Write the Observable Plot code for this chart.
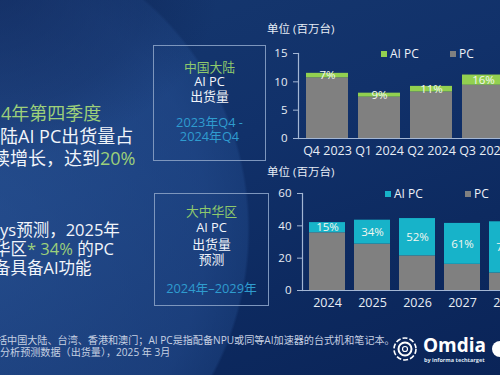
<!DOCTYPE html>
<html><head><meta charset="utf-8">
<script src="https://cdn.jsdelivr.net/npm/d3@7"></script>
<script src="https://cdn.jsdelivr.net/npm/@observablehq/plot@0.6"></script>
<style>
html,body{margin:0;padding:0;background:#0d2a5f;}
#slide{position:relative;width:500px;height:375px;overflow:hidden;font-family:"Open Sans","Noto Sans CJK SC",sans-serif;color:#f2f5fa;
background:
 radial-gradient(ellipse 230px 180px at -10px -20px, rgba(10,28,75,0.55) 0%, rgba(10,28,75,0.25) 70%, rgba(10,28,75,0) 100%),
 radial-gradient(ellipse 290px 300px at -40px 230px, rgba(52,98,168,0.55) 0%, rgba(44,88,158,0.45) 85%, rgba(40,84,152,0.35) 99%, rgba(30,70,140,0.0) 100%),
 linear-gradient(160deg,#16386f 0%,#11316a 40%,#0d2a60 70%,#0a2458 100%);}
.abs{position:absolute;white-space:nowrap;}
.g{color:#9dd07a;}
.box{position:absolute;border:1.5px solid #7d96bd;box-sizing:border-box;}
.bt{position:absolute;left:0;width:100%;text-align:center;font-size:12.8px;line-height:14px;}
.lg{position:absolute;font-size:12px;line-height:14px;color:#eef2f8;white-space:nowrap;}
.sq{display:inline-block;width:6px;height:6px;margin-right:3px;vertical-align:1px;}
.ylab{position:absolute;font-size:11.5px;line-height:14px;color:#e6ecf5;white-space:nowrap;}
.chart{position:absolute;width:320px;}
.chart svg{max-width:none !important;}
</style></head>
<body>
<div id="slide">
  <!-- left text -->
  <div class="abs g" style="left:1px;top:102px;font-size:18px;line-height:22px;">4年第四季度</div>
  <div class="abs" style="left:0px;top:125px;font-size:18px;line-height:22px;">陆AI PC出货量占</div>
  <div class="abs" style="left:-8px;top:147px;font-size:18px;line-height:22px;">续增长，达到<span class="g">20%</span></div>

  <div class="abs" style="left:0px;top:220px;font-size:16.5px;line-height:19px;">ys预测，2025年</div>
  <div class="abs" style="left:-6px;top:239px;font-size:16.5px;line-height:19px;">华区<span class="g">* 34%</span> 的PC</div>
  <div class="abs" style="left:-6px;top:258px;font-size:16.5px;line-height:19px;">备具备AI功能</div>

  <!-- boxes -->
  <div class="box" style="left:153px;top:45px;width:113px;height:116px;">
    <div class="bt" style="top:14px;color:#8fc96c;">中国大陆</div>
    <div class="bt" style="top:28px;">AI PC</div>
    <div class="bt" style="top:43px;">出货量</div>
    <div class="bt" style="top:69px;color:#2f9ccf;">2023年Q4 -</div>
    <div class="bt" style="top:83px;color:#2f9ccf;">2024年Q4</div>
  </div>
  <div class="box" style="left:154px;top:193px;width:115px;height:113px;">
    <div class="bt" style="top:10px;color:#8fc96c;">大中华区</div>
    <div class="bt" style="top:26px;">AI PC</div>
    <div class="bt" style="top:43px;">出货量</div>
    <div class="bt" style="top:58px;">预测</div>
    <div class="bt" style="top:87px;color:#2f9ccf;">2024年–2029年</div>
  </div>

  <!-- axis titles -->
  <div class="ylab" style="left:267px;top:22px;">单位 (百万台)</div>
  <div class="ylab" style="left:267px;top:165px;">单位 (百万台)</div>

  <div id="c1" class="chart" style="left:250px;top:20px;"></div>
  <div id="c2" class="chart" style="left:250px;top:170px;"></div>

  <!-- legends -->
  <div class="lg" style="left:381px;top:47px;"><span class="sq" style="background:#92d050"></span>AI PC</div>
  <div class="lg" style="left:450px;top:47px;"><span class="sq" style="background:#808080"></span>PC</div>
  <div class="lg" style="left:385px;top:187px;"><span class="sq" style="background:#17b3c9"></span>AI PC</div>
  <div class="lg" style="left:465px;top:187px;"><span class="sq" style="background:#808080"></span>PC</div>

  <!-- footnote -->
  <div class="abs" style="left:-3px;top:334px;font-size:10.1px;line-height:12px;color:#c6d0e2;">括中国大陆、台湾、香港和澳门；AI PC是指配备NPU或同等AI加速器的台式机和笔记本。</div>
  <div class="abs" style="left:0px;top:346px;font-size:10.1px;line-height:12px;color:#c6d0e2;">分析预测数据（出货量），2025 年 3月</div>

  <!-- logo -->
  <svg style="position:absolute;left:390px;top:334px;" width="110" height="32">
    <circle cx="15" cy="15" r="11" fill="none" stroke="#fff" stroke-width="1.6" stroke-dasharray="5 2"/>
    <circle cx="15" cy="15" r="6.5" fill="none" stroke="#fff" stroke-width="2"/>
    <circle cx="15" cy="15" r="2.5" fill="none" stroke="#fff" stroke-width="1.2"/>
    <text x="33" y="18" fill="#fff" font-size="19" font-weight="bold" font-family="Open Sans">Omdia</text>
    <text x="34" y="28" fill="#dfe6f2" font-size="5.5" font-weight="bold" font-family="Open Sans">by informa techtarget</text>
    <circle cx="110" cy="15" r="8" fill="#fff"/>
  </svg>
</div>
<script>
// ---- Chart 1: 中国大陆 AI PC 出货量 (百万台)
const quarters = ["Q4 2023", "Q1 2024", "Q2 2024", "Q3 2024"];
const cnPC = [10.7, 7.3, 8.2, 9.4];
const cnAI = [0.8, 0.7, 1.0, 1.8];
const cnShare = ["7%", "9%", "11%", "16%"];
const cnTicks = [0, 5, 10, 15];

// ---- Chart 2: 大中华区 AI PC 出货量预测 (百万台)
const years = ["2024", "2025", "2026", "2027", "2028"];
const gcPC = [35.7, 28.7, 21.4, 16.2, 10.8];
const gcAI = [6.3, 14.8, 23.1, 25.3, 31.7];
const gcShare = ["15%", "34%", "52%", "61%", "75%"];
const gcTicks = [0, 20, 40, 60];

const axisColor = "#a3b6d4";
const textColor = "#e8edf5";

function stacked({cats, pc, ai, share, ticks, aiColor, width, height, ml, mt, mb, pi, po, xFont}) {
  const rows = cats.flatMap((c, i) => [
    {cat: c, type: "PC", v: pc[i]},
    {cat: c, type: "AI PC", v: ai[i]}
  ]);
  const labels = cats.map((c, i) => ({cat: c, y: pc[i] + ai[i] / 2, t: share[i]}));
  const svg = Plot.plot({
    width, height,
    marginLeft: ml, marginTop: mt, marginBottom: mb, marginRight: 0,
    style: {background: "transparent", color: textColor, fontFamily: "Open Sans, Noto Sans CJK SC, sans-serif", overflow: "visible", maxWidth: "none"},
    x: {domain: cats, paddingInner: pi, paddingOuter: po, label: null, axis: null},
    y: {domain: [0, ticks[ticks.length - 1]], label: null, axis: null},
    color: {domain: ["PC", "AI PC"], range: ["#808080", aiColor]},
    marks: [
      Plot.barY(rows, {x: "cat", y: "v", fill: "type"}),
      Plot.text(labels, {x: "cat", y: "y", text: "t", fill: "#f4f7f0", fontSize: 11.5}),
      Plot.ruleY([0], {stroke: axisColor, strokeWidth: 1.2}),
      Plot.frame({anchor: "left", stroke: axisColor, strokeWidth: 1.2}),
      Plot.axisY({ticks, tickSize: 5, tickPadding: 6, stroke: axisColor, fontSize: 11.5, fill: textColor, label: null}),
      Plot.axisX({tickSize: 0, tickPadding: 8, fontSize: xFont, fill: textColor, label: null})
    ]
  });
  svg.style.maxWidth = "none";
  return svg;
}

document.getElementById("c1").append(stacked({
  cats: quarters, pc: cnPC, ai: cnAI, share: cnShare, ticks: cnTicks, aiColor: "#92d050",
  width: 48 + 213, height: 144, ml: 48, mt: 33, mb: 26, pi: 0.2, po: 0.12, xFont: 12.5
}));
document.getElementById("c2").append(stacked({
  cats: years, pc: gcPC, ai: gcAI, share: gcShare, ticks: gcTicks, aiColor: "#17b3c9",
  width: 52 + 230, height: 146, ml: 52, mt: 23, mb: 26, pi: 0.19, po: 0.12, xFont: 12.5
}));
</script>
</body></html>
